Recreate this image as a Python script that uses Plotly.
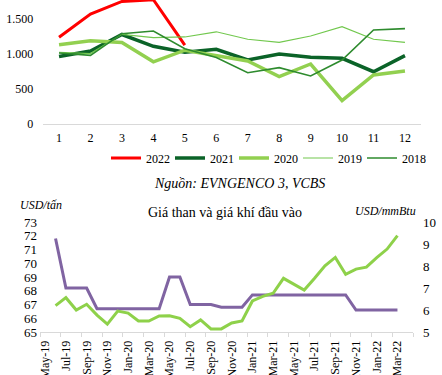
import plotly.graph_objects as go

W, H = 442, 375
FONT = "Liberation Serif"

# ---------------- Top chart data ----------------
months_top = [1, 2, 3, 4, 5, 6, 7, 8, 9, 10, 11, 12]
top_yticks = [0, 500, 1000, 1500]
top_yticktext = ["0", "500", "1.000", "1.500"]

y2022 = [1239, 1571, 1750, 1775, 1127]
y2021 = [964, 1043, 1278, 1110, 1024, 1067, 914, 1000, 952, 938, 747, 976]
y2020 = [1131, 1188, 1164, 888, 1054, 975, 900, 676, 857, 333, 700, 757]
y2019 = [1025, 1005, 1281, 1233, 1243, 1317, 1210, 1167, 1257, 1390, 1210, 1167]
y2018 = [1014, 981, 1290, 1329, 1076, 950, 733, 805, 686, 914, 1343, 1362]

# ---------------- Bottom chart data ----------------
month_labels = [
    "May-19", "Jun-19", "Jul-19", "Aug-19", "Sep-19", "Oct-19", "Nov-19", "Dec-19",
    "Jan-20", "Feb-20", "Mar-20", "Apr-20", "May-20", "Jun-20", "Jul-20", "Aug-20",
    "Sep-20", "Oct-20", "Nov-20", "Dec-20", "Jan-21", "Feb-21", "Mar-21", "Apr-21",
    "May-21", "Jun-21", "Jul-21", "Aug-21", "Sep-21", "Oct-21", "Nov-21", "Dec-21",
    "Jan-22", "Feb-22", "Mar-22", "Apr-22",
]
data_months = month_labels[1:35]  # Jun-19 .. Mar-22

coal_price = [
    71.8, 68.2, 68.2, 68.2,
    66.7, 66.7, 66.7, 66.7, 66.7, 66.7, 66.7,
    69.0, 69.0,
    67.0, 67.0, 67.0,
    66.8, 66.8, 66.8,
    67.7, 67.7, 67.7, 67.7, 67.7, 67.7, 67.7, 67.7, 67.7, 67.7,
    66.6, 66.6, 66.6, 66.6, 66.6,
]
gas_price = [
    6.20, 6.56, 6.00, 6.26, 5.77, 5.36, 5.95, 5.86, 5.50, 5.50, 5.73, 5.74,
    5.62, 5.24, 5.55, 5.14, 5.14, 5.41, 5.50, 6.41, 6.62, 6.76, 7.44, 7.17,
    6.91, 7.44, 8.01, 8.39, 7.62, 7.86, 7.95, 8.38, 8.77, 9.38,
]
left_ticks = [65, 66, 67, 68, 69, 70, 71, 72, 73]
right_ticks = [5, 6, 7, 8, 9, 10]

xb = [month_labels.index(m) for m in data_months]
tick_idx = list(range(0, len(month_labels) - 1, 2))
tick_text = [month_labels[i] for i in tick_idx]
boundary_ticks = [i - 0.5 for i in range(0, len(month_labels) + 1, 2)]

fig = go.Figure()

series = [
    ("2022", y2022, "#FF0000", 3),
    ("2021", y2021, "#0B6328", 3.5),
    ("2020", y2020, "#92D050", 3.5),
    ("2019", y2019, "#72C84E", 1.2),
    ("2018", y2018, "#2E8B2E", 1.6),
]
for name, ys, col, w in series:
    fig.add_trace(go.Scatter(
        x=months_top[:len(ys)], y=ys, name=name, mode="lines",
        line=dict(color=col, width=w), xaxis="x", yaxis="y",
    ))

fig.add_trace(go.Scatter(
    x=xb, y=coal_price, mode="lines", showlegend=False,
    line=dict(color="#8064A2", width=3), xaxis="x2", yaxis="y2",
))
fig.add_trace(go.Scatter(
    x=xb, y=gas_price, mode="lines", showlegend=False,
    line=dict(color="#8ED14A", width=3), xaxis="x2", yaxis="y3",
))

fig.update_layout(
    width=W, height=H,
    margin=dict(l=0, r=0, t=0, b=0, autoexpand=False),
    paper_bgcolor="white", plot_bgcolor="white",
    font=dict(family=FONT, size=12, color="black"),
    legend=dict(
        orientation="h", x=106 / W, xanchor="left", y=1 - 158 / H, yanchor="middle",
        entrywidth=19, entrywidthmode="pixels", itemwidth=30,
        font=dict(family=FONT, size=12, color="black"),
        bgcolor="rgba(0,0,0,0)", tracegroupgap=0,
    ),
    xaxis=dict(
        domain=[43.3 / W, 420.7 / W], range=[0.5, 12.5], anchor="y",
        tickmode="array", tickvals=months_top,
        showline=True, linecolor="#D9D9D9", linewidth=1,
        ticks="", showgrid=False, zeroline=False, automargin=False,
        tickfont=dict(size=12), ticklabelstandoff=3,
    ),
    yaxis=dict(
        domain=[1 - 124 / H, 1], range=[0, 1771], anchor="x",
        tickmode="array", tickvals=top_yticks, ticktext=top_yticktext,
        showline=False, showgrid=False, zeroline=False, ticks="", automargin=False,
        tickfont=dict(size=12), ticklabelstandoff=9,
    ),
    xaxis2=dict(
        domain=[40 / W, 413 / W], range=[-0.5, len(month_labels) - 0.5], anchor="y2",
        tickmode="array", tickvals=tick_idx, ticktext=tick_text, tickangle=-90,
        showline=True, linecolor="#D9D9D9", linewidth=1,
        ticks="", showgrid=False, zeroline=False, automargin=False,
        tickfont=dict(size=12), ticklabelstandoff=3,
        minor=dict(tickmode="array", tickvals=boundary_ticks, ticks="outside",
                   ticklen=4, tickcolor="#D9D9D9", tickwidth=1, showgrid=False),
    ),
    yaxis2=dict(
        domain=[1 - 332 / H, 1 - 222 / H], range=[65, 73], anchor="x2",
        tickmode="array", tickvals=left_ticks,
        showline=False, showgrid=False, zeroline=False, ticks="", automargin=False,
        tickfont=dict(size=13), ticklabelstandoff=2,
    ),
    yaxis3=dict(
        range=[5, 10], anchor="x2", overlaying="y2", side="right",
        tickmode="array", tickvals=right_ticks,
        showline=False, showgrid=False, zeroline=False, ticks="", automargin=False,
        tickfont=dict(size=13), ticklabelstandoff=9,
    ),
    annotations=[
        dict(text="<i>Nguồn: EVNGENCO 3, VCBS</i>", x=240 / W, y=1 - 184 / H,
             xref="paper", yref="paper", showarrow=False, xanchor="center",
             yanchor="middle", font=dict(family=FONT, size=14, color="black")),
        dict(text="Giá than và giá khí đầu vào", x=225 / W, y=1 - 212 / H,
             xref="paper", yref="paper", showarrow=False, xanchor="center",
             yanchor="middle", font=dict(family=FONT, size=14, color="black")),
        dict(text="<i>USD/tấn</i>", x=18 / W, y=1 - 205 / H,
             xref="paper", yref="paper", showarrow=False, xanchor="left",
             yanchor="middle", font=dict(family=FONT, size=12, color="black")),
        dict(text="<i>USD/mmBtu</i>", x=418 / W, y=1 - 211 / H,
             xref="paper", yref="paper", showarrow=False, xanchor="right",
             yanchor="middle", font=dict(family=FONT, size=12, color="black")),
    ],
)

fig.write_html(
    "out.html",
    config=dict(displayModeBar=False),
    post_script="document.body.style.margin='0';document.body.style.overflow='hidden';",
)
